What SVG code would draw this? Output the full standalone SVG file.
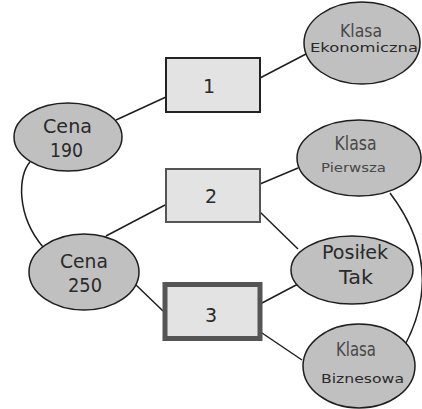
<svg xmlns="http://www.w3.org/2000/svg" width="422" height="409" viewBox="0 0 422 409">
  <style>
    .ell { fill: #c0c0c0; stroke: #1e1e1e; stroke-width: 1.5; }
    .box { fill: #e3e3e3; stroke: #222; stroke-width: 2; }
    .box2 { fill: #e3e3e3; stroke: #555; stroke-width: 2; }
    .box3 { fill: #e3e3e3; stroke: #555; stroke-width: 5; }
    .edge { fill: none; stroke: #1e1e1e; stroke-width: 1.5; }
    text { font-family: "DejaVu Sans", "Liberation Sans", sans-serif; fill: #2a2a2a; text-anchor: middle; }
    .big { font-size: 19px; }
    .mid { font-size: 18px; }
    .small { font-size: 13px; }
    .grey { fill: #484848; }
  </style>
  <rect width="422" height="409" fill="#fff"/>

  <!-- connectors -->
  <g id="connectors">
    <line class="edge" x1="166" y1="97" x2="116" y2="120"/>
    <line class="edge" x1="260" y1="78" x2="306" y2="54"/>
    <line class="edge" x1="165" y1="205" x2="106" y2="236"/>
    <line class="edge" x1="260" y1="184" x2="298" y2="168"/>
    <line class="edge" x1="260" y1="212" x2="298" y2="249"/>
    <line class="edge" x1="135" y1="284" x2="163" y2="311"/>
    <line class="edge" x1="262" y1="303" x2="298" y2="284"/>
    <line class="edge" x1="262" y1="333" x2="302" y2="360"/>
    <path class="edge" d="M30,162 C18,175 16,215 43,247"/>
    <path class="edge" d="M390,193 Q446,267 405,345"/>
  </g>

  <!-- choice boxes -->
  <g id="box1">
    <rect class="box" x="166" y="58" width="94" height="54"/>
    <text class="big" x="209" y="93">1</text>
  </g>
  <g id="box2">
    <rect class="box2" x="166" y="169" width="94" height="53"/>
    <text class="big" x="211" y="203">2</text>
  </g>
  <g id="box3">
    <rect class="box3" x="165" y="284.5" width="95" height="54"/>
    <text class="big" x="211" y="322">3</text>
  </g>

  <!-- attribute ellipses -->
  <g id="cena190">
    <ellipse class="ell" cx="68" cy="137" rx="54" ry="34"/>
    <text class="big" x="67.5" y="133" textLength="49" lengthAdjust="spacingAndGlyphs">Cena</text>
    <text class="big" x="66.5" y="157" textLength="33" lengthAdjust="spacingAndGlyphs">190</text>
  </g>
  <g id="cena250">
    <ellipse class="ell" cx="84" cy="272" rx="55" ry="38"/>
    <text class="big" x="84" y="268" textLength="48" lengthAdjust="spacingAndGlyphs">Cena</text>
    <text class="big" x="85" y="292" textLength="34" lengthAdjust="spacingAndGlyphs">250</text>
  </g>
  <g id="klasa-ekonomiczna">
    <ellipse class="ell" cx="362" cy="43" rx="58" ry="41"/>
    <text class="mid grey" x="361" y="37" textLength="42" lengthAdjust="spacingAndGlyphs">Klasa</text>
    <text class="small" x="364" y="52" font-size="11.5" textLength="108" lengthAdjust="spacingAndGlyphs">Ekonomiczna</text>
  </g>
  <g id="klasa-pierwsza">
    <ellipse class="ell" cx="359" cy="158" rx="62" ry="38"/>
    <text class="big grey" x="355.5" y="150" textLength="42" lengthAdjust="spacingAndGlyphs">Klasa</text>
    <text class="small grey" x="353.5" y="172" textLength="65" lengthAdjust="spacingAndGlyphs">Pierwsza</text>
  </g>
  <g id="posilek-tak">
    <ellipse class="ell" cx="352" cy="270" rx="61" ry="34"/>
    <text class="big" x="355" y="259" textLength="66" lengthAdjust="spacingAndGlyphs">Posiłek</text>
    <text class="big" x="356" y="284" textLength="34" lengthAdjust="spacingAndGlyphs">Tak</text>
  </g>
  <g id="klasa-biznesowa">
    <ellipse class="ell" cx="359" cy="366" rx="56" ry="42"/>
    <text class="big grey" x="356" y="356" textLength="40" lengthAdjust="spacingAndGlyphs">Klasa</text>
    <text class="small" x="362.5" y="383" textLength="83" lengthAdjust="spacingAndGlyphs">Biznesowa</text>
  </g>
</svg>
